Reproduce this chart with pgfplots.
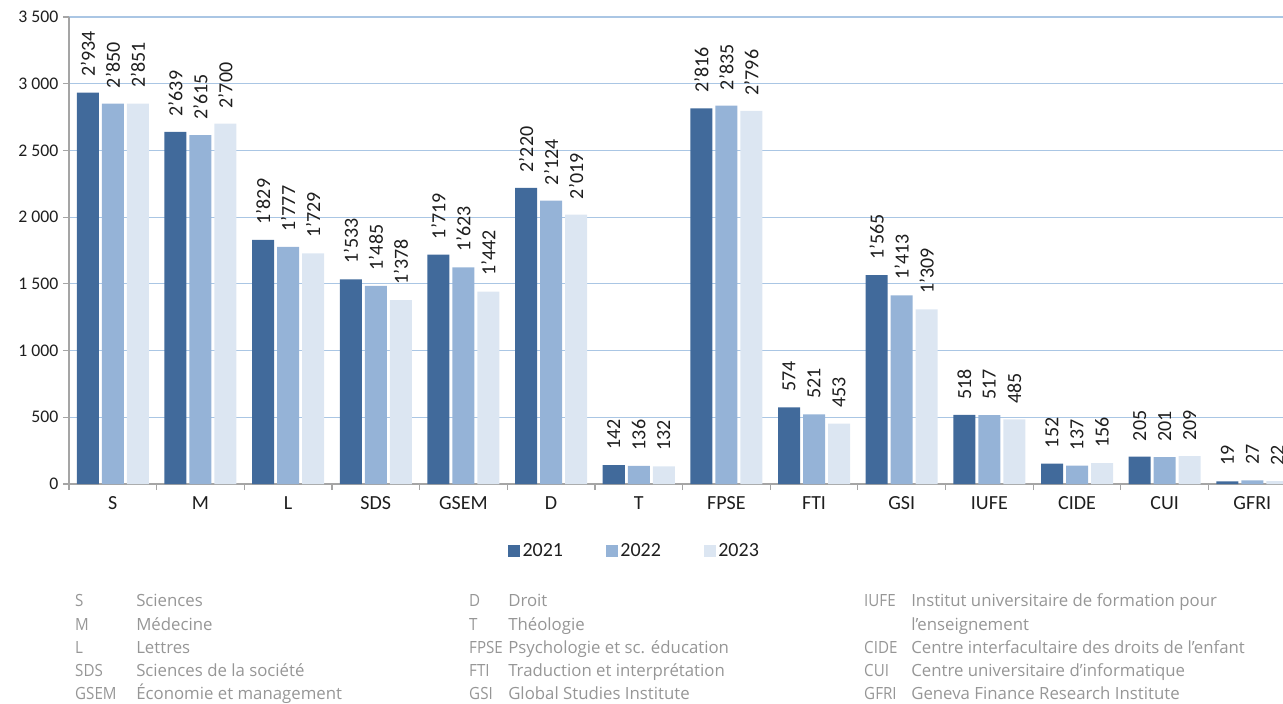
\documentclass[border=0pt]{standalone}
\usepackage{pgfplots}
\pgfplotsset{compat=1.18}
\usepackage{pgfplotstable}
\usepackage{fontspec}
\setmainfont{Carlito}
\newfontfamily\notefont{Open Sans}
\definecolor{c21}{RGB}{65,106,155}
\definecolor{c22}{RGB}{149,179,215}
\definecolor{c23}{RGB}{220,230,242}
\definecolor{gridc}{RGB}{170,198,228}
\definecolor{axc}{RGB}{165,165,165}
\definecolor{txt}{RGB}{30,30,30}
\definecolor{notec}{RGB}{150,150,150}

\pgfplotstableread{
x a b c la lb lc
0 2934 2850 2851 2'934 2'850 2'851
1 2639 2615 2700 2'639 2'615 2'700
2 1829 1777 1729 1'829 1'777 1'729
3 1533 1485 1378 1'533 1'485 1'378
4 1719 1623 1442 1'719 1'623 1'442
5 2220 2124 2019 2'220 2'124 2'019
6 142 136 132 142 136 132
7 2816 2835 2796 2'816 2'835 2'796
8 574 521 453 574 521 453
9 1565 1413 1309 1'565 1'413 1'309
10 518 517 485 518 517 485
11 152 137 156 152 137 156
12 205 201 209 205 201 209
13 19 27 22 19 27 22
}\data

\begin{document}
\begin{tikzpicture}[x=1pt,y=1pt]
\begin{axis}[
  at={(0pt,0pt)}, anchor=south west,
  scale only axis, width=910.5pt, height=350.25pt,
  xmin=-0.5, xmax=13.35, ymin=0, ymax=3500,
  ybar=2.25pt, bar width=16.5pt,
  legend image code/.code={\fill[#1] (0pt,-4.5pt) rectangle (9pt,4.5pt);},
  axis x line*=bottom, axis y line*=left,
  axis line style={draw=axc, line width=0.9pt},
  xtick={0,...,13},
  xticklabels={S,M,L,SDS,GSEM,D,T,FPSE,FTI,GSI,IUFE,CIDE,CUI,GFRI},
  major x tick style={draw=none},
  minor xtick={-0.5,0.5,...,12.5},
  minor x tick style={draw=axc, line width=0.9pt},
  minor tick length=4.5pt,
  ytick={0,500,...,3500},
  yticklabels={0,500,1 000,1 500,2 000,2 500,3 000,3 500},
  major y tick style={draw=axc, line width=0.9pt},
  major tick length=4.5pt,
  tick align=outside,
  ymajorgrids, grid style={draw=gridc, line width=0.9pt},
  xticklabel style={font=\fontsize{15pt}{18pt}\selectfont, text=txt, yshift=-1.5pt},
  yticklabel style={font=\fontsize{13.3pt}{16pt}\selectfont, text=txt},
  nodes near coords={\pgfplotspointmeta},
  point meta=explicit symbolic,
  every node near coord/.append style={rotate=90, anchor=west, inner xsep=11.5pt, inner ysep=0pt,
     font=\fontsize{15pt}{18pt}\selectfont, text=txt},
  legend columns=3,
  legend style={at={(0.466,-0.1435)}, anchor=center, draw=none, fill=none,
     font=\fontsize{15pt}{18pt}\selectfont, text=txt,
     /tikz/every even column/.append style={column sep=30pt}},
]
\addplot[fill=c21, draw=none] table[x=x, y=a, meta=la] {\data};
\addplot[fill=c22, draw=none] table[x=x, y=b, meta=lb] {\data};
\addplot[fill=c23, draw=none] table[x=x, y=c, meta=lc] {\data};
\legend{2021,2022,2023}
\end{axis}
\begin{scope}[every node/.style={anchor=base west, inner sep=0pt, text=notec, font=\notefont\fontsize{12.6pt}{15pt}\selectfont},
  ab/.style={xscale=0.9}]
\node[ab] at (4.5pt,-91.5pt) {S};      \node at (50.25pt,-91.5pt) {Sciences};
\node[ab] at (4.5pt,-109.5pt) {M};     \node at (50.25pt,-109.5pt) {Médecine};
\node[ab] at (4.5pt,-126.75pt) {L};    \node at (50.25pt,-126.75pt) {Lettres};
\node[ab] at (4.5pt,-144pt) {SDS};     \node at (50.25pt,-144pt) {Sciences de la société};
\node[ab] at (4.5pt,-161.25pt) {GSEM}; \node at (50.25pt,-161.25pt) {Économie et management};
\node[ab] at (300pt,-91.5pt) {D};      \node at (329.25pt,-91.5pt) {Droit};
\node[ab] at (300pt,-109.5pt) {T};     \node at (329.25pt,-109.5pt) {Théologie};
\node[ab] at (300pt,-126.75pt) {FPSE}; \node at (329.25pt,-126.75pt) {Psychologie et sc. éducation};
\node[ab] at (300pt,-144pt) {FTI};     \node at (329.25pt,-144pt) {Traduction et interprétation};
\node[ab] at (300pt,-161.25pt) {GSI};  \node at (329.25pt,-161.25pt) {Global Studies Institute};
\node[ab] at (596.25pt,-91.5pt) {IUFE};   \node at (631.5pt,-91.5pt) {Institut universitaire de formation pour};
                                          \node at (631.5pt,-109.5pt) {l’enseignement};
\node[ab] at (596.25pt,-126.75pt) {CIDE}; \node at (631.5pt,-126.75pt) {Centre interfacultaire des droits de l’enfant};
\node[ab] at (596.25pt,-144pt) {CUI};     \node at (631.5pt,-144pt) {Centre universitaire d’informatique};
\node[ab] at (596.25pt,-161.25pt) {GFRI}; \node at (631.5pt,-161.25pt) {Geneva Finance Research Institute};
\end{scope}
\pgfresetboundingbox
\useasboundingbox (-51.75pt,-165pt) rectangle (910.5pt,363pt);
\end{tikzpicture}
\end{document}
